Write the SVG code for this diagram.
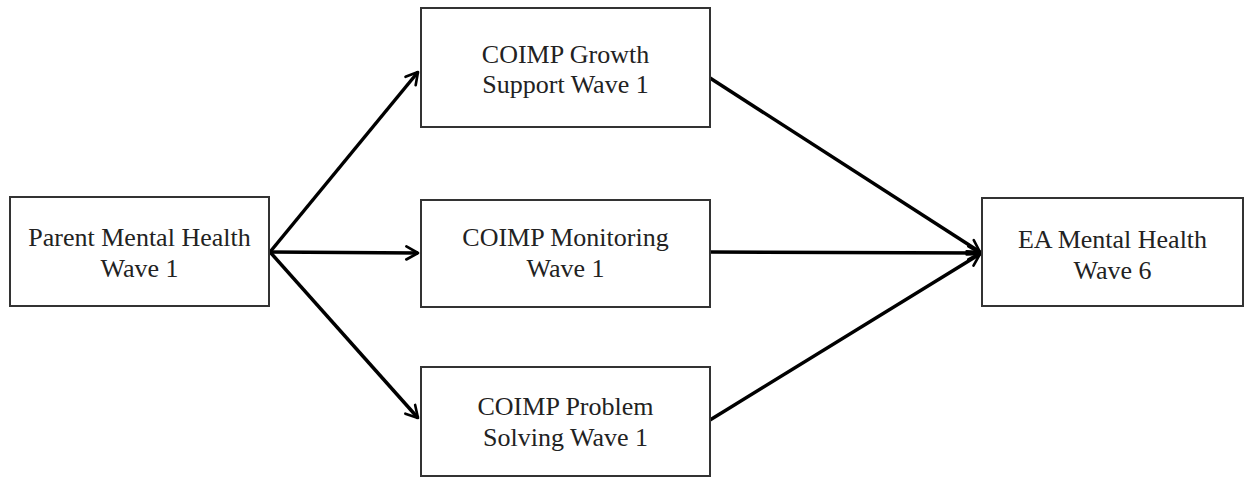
<svg xmlns="http://www.w3.org/2000/svg" width="1246" height="479" viewBox="0 0 1246 479">
<style>
.box{fill:#fff;stroke:#333;stroke-width:2}
.t{font-family:"Liberation Serif","Times New Roman",serif;font-size:26px;fill:#222;text-anchor:middle}
.c{stroke:#000;stroke-width:3.5;fill:none;marker-end:url(#ah)}
</style>
<defs>
<marker id="ah" viewBox="0 0 12 12" refX="10" refY="6" markerWidth="5" markerHeight="5" markerUnits="strokeWidth" orient="auto">
<path d="M2,1.5 L10,6 L2,10.5" fill="none" stroke="#000" stroke-width="1.8" stroke-linecap="round" stroke-linejoin="round"/>
</marker>
</defs>
<rect width="1246" height="479" fill="#fff"/>
<g id="connectors">
<path class="c" d="M270,252 L418,72"/>
<path class="c" d="M270,252 L418,253"/>
<path class="c" d="M270,252 L418,418"/>
<path class="c" d="M710,78 L980,252"/>
<path class="c" d="M710,252 L980,253"/>
<path class="c" d="M710,420 L980,254"/>
</g>
<g id="parent">
<rect class="box" x="10" y="197" width="259" height="109"/>
<text class="t" x="139.5" y="246">Parent Mental Health</text>
<text class="t" x="139.5" y="277">Wave 1</text>
</g>
<g id="growth">
<rect class="box" x="421" y="8" width="289" height="119"/>
<text class="t" x="565.5" y="63">COIMP Growth</text>
<text class="t" x="565.5" y="93">Support Wave 1</text>
</g>
<g id="monitoring">
<rect class="box" x="421" y="200" width="289" height="107"/>
<text class="t" x="565.5" y="246">COIMP Monitoring</text>
<text class="t" x="565.5" y="277">Wave 1</text>
</g>
<g id="problem">
<rect class="box" x="421" y="367" width="289" height="109"/>
<text class="t" x="565.5" y="415">COIMP Problem</text>
<text class="t" x="565.5" y="446">Solving Wave 1</text>
</g>
<g id="ea">
<rect class="box" x="982" y="198" width="261" height="108"/>
<text class="t" x="1112.5" y="248">EA Mental Health</text>
<text class="t" x="1112.5" y="279">Wave 6</text>
</g>
</svg>
